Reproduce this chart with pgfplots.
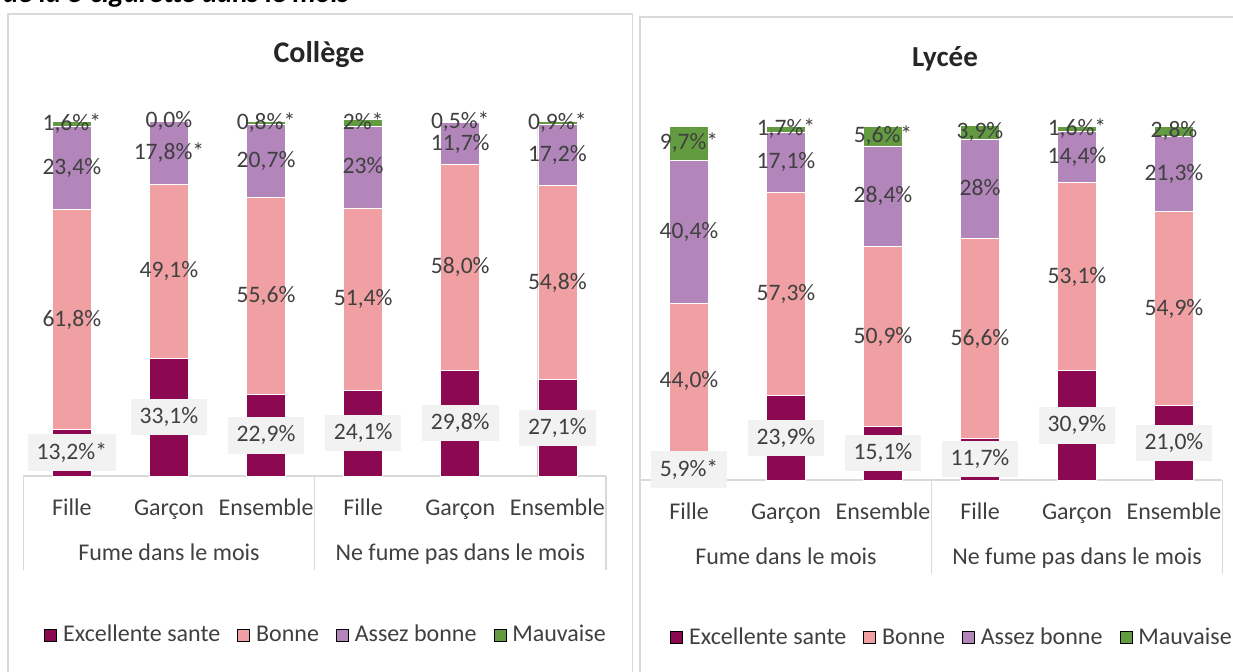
\documentclass[border=0pt]{standalone}
\usepackage{fontspec}
\setmainfont{Carlito}
\usepackage{pgfplots}
\usepackage{pgfplotstable}
\pgfplotsset{compat=1.18}

\definecolor{exc}{RGB}{140,9,82}
\definecolor{bon}{RGB}{240,160,162}
\definecolor{ass}{RGB}{178,134,186}
\definecolor{mau}{RGB}{98,155,64}
\definecolor{lgray}{RGB}{217,217,217}
\definecolor{boxgray}{RGB}{242,242,242}
\definecolor{txt}{RGB}{64,64,64}
\definecolor{ttl}{RGB}{38,38,38}

% x exc bon ass mau | labels
\pgfplotstableread{
x exc bon ass mau le lb la lm
0 13.2 61.8 23.4 1.6 13,2\%* 61,8\% 23,4\% 1,6\%*
1 33.1 49.1 17.8 0.0 33,1\% 49,1\% 17,8\%* 0,0\%
2 22.9 55.6 20.7 0.8 22,9\% 55,6\% 20,7\% 0,8\%*
3 24.1 51.4 23.0 2.0 24,1\% 51,4\% 23\% 2\%*
4 29.8 58.0 11.7 0.5 29,8\% 58,0\% 11,7\% 0,5\%*
5 27.1 54.8 17.2 0.9 27,1\% 54,8\% 17,2\% 0,9\%*
}\college

\pgfplotstableread{
x exc bon ass mau le lb la lm
0 5.9 44.0 40.4 9.7 5,9\%* 44,0\% 40,4\% 9,7\%*
1 23.9 57.3 17.1 1.7 23,9\% 57,3\% 17,1\% 1,7\%*
2 15.1 50.9 28.4 5.6 15,1\% 50,9\% 28,4\% 5,6\%*
3 11.7 56.6 28.0 3.9 11,7\% 56,6\% 28\% 3,9\%
4 30.9 53.1 14.4 1.6 30,9\% 53,1\% 14,4\% 1,6\%*
5 21.0 54.9 21.3 2.8 21,0\% 54,9\% 21,3\% 2,8\%
}\lycee

\tikzset{
  lbl/.style={font=\fontsize{11.8}{14}\selectfont, text=txt, inner sep=0pt,
    text height=7.6pt, text depth=1pt, anchor=center},
  lblbox/.style={lbl, fill=boxgray, inner xsep=4.5pt, inner ysep=4.8pt},
  border/.style={draw=lgray, line width=0.9pt},
}

\pgfplotsset{
  panel/.style={
    scale only axis, anchor=south west,
    xmin=-0.5, xmax=5.5, ymin=0, ymax=100,
    axis x line=bottom, axis y line=none,
    axis line style={-, draw=lgray, line width=0.75pt},
    xtick={0,...,5},
    xticklabels={Fille,Garçon,Ensemble,Fille,Garçon,Ensemble},
    major tick length=0pt,
    xticklabel style={font=\fontsize{12}{14}\selectfont, text=txt, anchor=base, yshift=-19.5pt},
    clip=false,
    legend columns=-1,
    legend image code/.code={\path[#1] (0pt,-3pt) rectangle (6pt,3pt);},
    legend style={draw=none, fill=none, anchor=west, inner sep=0pt,
      font=\fontsize{12}{14}\selectfont, text=txt,
      nodes={inner sep=0pt},
      /tikz/every odd column/.append style={column sep=3pt},
      /tikz/every even column/.append style={column sep=8.5pt}},
  },
  seg/.style={ybar, bar width=19.5pt, bar shift=0pt, draw=white, line width=0.3pt, forget plot},
  lab/.style={draw=none, mark=none, forget plot, nodes near coords, point meta=explicit symbolic},
}

\newcommand\stackbars[1]{%
  \addplot[seg, fill=mau] table[x=x, y expr=\thisrow{exc}+\thisrow{bon}+\thisrow{ass}+\thisrow{mau}] {#1};
  \addplot[seg, fill=ass] table[x=x, y expr=\thisrow{exc}+\thisrow{bon}+\thisrow{ass}] {#1};
  \addplot[seg, fill=bon] table[x=x, y expr=\thisrow{exc}+\thisrow{bon}] {#1};
  \addplot[seg, fill=exc] table[x=x, y=exc] {#1};
  \addplot[lab, every node near coord/.append style={lblbox}] table[x=x, y expr=\thisrow{exc}/2, meta=le] {#1};
  \addplot[lab, every node near coord/.append style={lbl}] table[x=x, y expr=\thisrow{exc}+\thisrow{bon}/2, meta=lb] {#1};
  \addplot[lab, every node near coord/.append style={lbl}] table[x=x, y expr=\thisrow{exc}+\thisrow{bon}+\thisrow{ass}/2, meta=la] {#1};
  \addplot[lab, every node near coord/.append style={lbl}] table[x=x, y expr=\thisrow{exc}+\thisrow{bon}+\thisrow{ass}+\thisrow{mau}/2, meta=lm] {#1};
  \addlegendimage{fill=exc}\addlegendentry{Excellente sante}
  \addlegendimage{fill=bon}\addlegendentry{Bonne}
  \addlegendimage{fill=ass}\addlegendentry{Assez bonne}
  \addlegendimage{fill=mau}\addlegendentry{Mauvaise}
  \draw[lgray, line width=0.75pt] (axis cs:-0.5,0) -- ++(0pt,-47pt);
  \draw[lgray, line width=0.75pt] (axis cs:2.5,0) -- ++(0pt,-47pt);
  \draw[lgray, line width=0.75pt] (axis cs:5.5,0) -- ++(0pt,-47pt);
  \node[font=\fontsize{12}{14}\selectfont, text=txt, anchor=base, inner sep=0pt, yshift=-42pt] at (axis cs:1,0) {Fume dans le mois};
  \node[font=\fontsize{12}{14}\selectfont, text=txt, anchor=base, inner sep=0pt, yshift=-42pt] at (axis cs:4,0) {Ne fume pas dans le mois};
}

\begin{document}
\begin{tikzpicture}
\fill[white] (0,0) rectangle (616.5pt,335.5pt);

\node[anchor=base west, inner sep=0pt, font=\bfseries\itshape\fontsize{14.3}{16}\selectfont]
  at (1.5pt,334pt) {de la e-cigarette dans le mois};

\draw[border] (4pt,-2pt) -- (4pt,328.5pt) -- (316.25pt,328.5pt) -- (316.25pt,-2pt);
\draw[border] (320pt,-2pt) -- (320pt,327pt) -- (620pt,327pt);

\node[anchor=base, inner sep=0pt, text=ttl, font=\bfseries\fontsize{15}{18}\selectfont]
  at (159.5pt,304pt) {Collège};
\node[anchor=base, inner sep=0pt, text=ttl, font=\bfseries\fontsize{14.5}{18}\selectfont]
  at (472.5pt,302pt) {Lycée};

\begin{axis}[panel, at={(11.65pt,97.5pt)}, width=291.3pt, height=177.5pt,
  legend style={at={(0.0355,-0.448)}}]
  \stackbars{\college}
\end{axis}

\begin{axis}[panel, at={(320.25pt,95.5pt)}, width=291pt, height=177pt,
  legend style={at={(0.0507,-0.446)}}]
  \stackbars{\lycee}
\end{axis}

\pgfresetboundingbox
\useasboundingbox (0,0) rectangle (616.5pt,335.5pt);
\end{tikzpicture}
\end{document}
